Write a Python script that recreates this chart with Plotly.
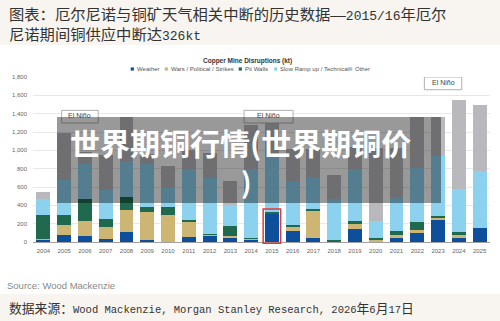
import plotly.graph_objects as go

years = list(range(2004, 2026))
series_names = ["Weather", "Wars / Political / Strikes", "Pit Walls", "Slow Ramp up / Technical", "Other"]
weather = [25, 72, 61, 36, 110, 25, 5, 50, 72, 44, 30, 310, 116, 44, 3, 141, 3, 44, 95, 236, 44, 153]
wars    = [10, 117, 164, 128, 242, 302, 285, 177, 5, 18, 5, 5, 50, 294, 3, 59, 22, 36, 33, 29, 31, 0]
pit     = [260, 105, 244, 87, 135, 51, 91, 8, 10, 109, 5, 8, 19, 26, 15, 29, 15, 36, 88, 18, 34, 0]
slow    = [176, 386, 382, 320, 397, 473, 208, 556, 606, 236, 760, 648, 476, 345, 444, 571, 185, 364, 591, 659, 469, 617]
other   = [71, 509, 127, 374, 476, 109, 243, 211, 280, 254, 480, 380, 354, 305, 269, 237, 805, 550, 558, 423, 967, 720]
colors = ["#0d4f9a", "#cdb673", "#1f6a4e", "#8cd1ee", "#b9b9bd"]
y_ticks = [0, 200, 400, 600, 800, 1000, 1200, 1400, 1600, 1800]

MONO = "<span style=\"font-family:'Liberation Mono';font-size:%spx\">%s</span>"
header_text = ("图表：厄尔尼诺与铜矿天气相关中断的历史数据" + MONO % (13, "——2015/16") + "年厄尔<br>"
               + "尼诺期间铜供应中断达" + MONO % (13, "326kt"))
chart_title = "Copper Mine Disruptions (kt)"
source_text = "Source: Wood Mackenzie"
footer_text = ("数据来源：" + MONO % (10.5, "Wood Mackenzie, Morgan Stanley Research, 2026") + "年"
               + MONO % (10.5, "6") + "月" + MONO % (10.5, "17") + "日")
watermark1 = "世界期铜行情(世界期铜价"
watermark2 = ")"
elnino_boxes = [(2004.88, 2006.64, 1298, 1436), (2013.66, 2016.02, 1298, 1436), (2022.34, 2024.14, 1661, 1800)]
highlight_year = 2015
highlight_top = 360

W, H = 500, 321
L, R, T, B = 33, 10, 77, 79
PW, PH = W - L - R, H - T - B

def px(x):
    return (x - L) / PW

def py(y):
    return (H - B - y) / PH

fig = go.Figure()
for name, vals, c in zip(series_names, [weather, wars, pit, slow, other], colors):
    fig.add_trace(go.Bar(x=years, y=vals, name=name, marker=dict(color=c, line=dict(width=0)),
                         showlegend=False))

shapes = []
annotations = []
# header/footer bands
shapes.append(dict(type="rect", xref="paper", yref="paper", x0=px(0), x1=px(W), y0=py(0), y1=py(45),
                   fillcolor="#f8f5f0", line=dict(width=0), layer="below"))
shapes.append(dict(type="rect", xref="paper", yref="paper", x0=px(0), x1=px(W), y0=py(294), y1=py(H),
                   fillcolor="#f8f5f0", line=dict(width=0), layer="below"))
# El Nino boxes
for x0, x1, y0, y1 in elnino_boxes:
    shapes.append(dict(type="rect", xref="x", yref="y", x0=x0, x1=x1, y0=y0, y1=y1,
                       fillcolor="white", line=dict(color="#b0b0b0", width=1)))
    annotations.append(dict(x=(x0 + x1) / 2, y=(y0 + y1) / 2 + 10, xref="x", yref="y", text="El Niño",
                            showarrow=False, font=dict(size=7, color="#444", family="Liberation Sans")))
# highlight red box
shapes.append(dict(type="rect", xref="x", yref="paper", x0=highlight_year - 0.42, x1=highlight_year + 0.42,
                   y0=py(243.3), y1=highlight_top / 1800, line=dict(color="#e0393b", width=1.5),
                   fillcolor="rgba(0,0,0,0)"))
# dark overlay
shapes.append(dict(type="rect", xref="paper", yref="paper", x0=px(57), x1=px(441), y0=py(203), y1=py(117),
                   fillcolor="rgba(0,0,0,0.4)", line=dict(width=0)))

# legend (manual)
leg_marker_x = [132.3, 166.3, 240.3, 275.7, 350.7]
for name, c, mx in zip(series_names, colors, leg_marker_x):
    shapes.append(dict(type="rect", xref="paper", yref="paper", x0=px(mx - 1.6), x1=px(mx + 1.6),
                       y0=py(70.6), y1=py(67.4), fillcolor=c, line=dict(width=0)))
    annotations.append(dict(x=px(mx + 2.6), y=py(69), xref="paper", yref="paper", text=name,
                            showarrow=False, xanchor="left", yanchor="middle",
                            font=dict(size=6, color="#555", family="Liberation Sans")))

annotations.append(dict(x=px(7), y=py(22.5), xref="paper", yref="paper", text=header_text, align="left",
                        showarrow=False, xanchor="left", yanchor="middle",
                        font=dict(size=15.3, color="#333", family="Noto Sans CJK SC")))
annotations.append(dict(x=px(247), y=py(61), xref="paper", yref="paper", text="<b>" + chart_title + "</b>",
                        showarrow=False, xanchor="center", yanchor="middle",
                        font=dict(size=6.5, color="#333", family="Liberation Sans")))
annotations.append(dict(x=px(5), y=py(285), xref="paper", yref="paper", text=source_text,
                        showarrow=False, xanchor="left", yanchor="middle",
                        font=dict(size=9.5, color="#888", family="Liberation Sans")))
annotations.append(dict(x=px(7), y=py(307), xref="paper", yref="paper", text=footer_text,
                        showarrow=False, xanchor="left", yanchor="middle",
                        font=dict(size=12.8, color="#333", family="Noto Sans CJK SC")))
annotations.append(dict(x=px(240), y=py(141.5), xref="paper", yref="paper", text="<b>" + watermark1 + "</b>",
                        showarrow=False, xanchor="center", yanchor="middle",
                        font=dict(size=30, color="white", family="Noto Sans CJK SC")))
annotations.append(dict(x=px(246), y=py(181), xref="paper", yref="paper", text="<b>" + watermark2 + "</b>",
                        showarrow=False, xanchor="center", yanchor="middle",
                        font=dict(size=28, color="white", family="Noto Sans CJK SC")))

fig.update_layout(
    width=W, height=H, margin=dict(l=L, r=R, t=T, b=B),
    barmode="stack", bargap=0.33,
    plot_bgcolor="white", paper_bgcolor="white",
    shapes=shapes, annotations=annotations,
    xaxis=dict(range=[2003.5, 2025.5], tickmode="array", tickvals=years, ticktext=[str(y) for y in years],
               showgrid=False, zeroline=False, showline=False, ticks="",
               tickfont=dict(size=6, color="#666", family="Liberation Sans"), ticklabelstandoff=4),
    yaxis=dict(range=[0, 1800], tickmode="array", tickvals=y_ticks, tickformat=",",
               showgrid=True, gridcolor="#e8e8e8", gridwidth=1, zeroline=True, zerolinecolor="#a0a0a0",
               zerolinewidth=1, showline=False, ticks="",
               tickfont=dict(size=6, color="#666", family="Liberation Sans"), ticklabelstandoff=5),
)

fig.write_html("out.html")
